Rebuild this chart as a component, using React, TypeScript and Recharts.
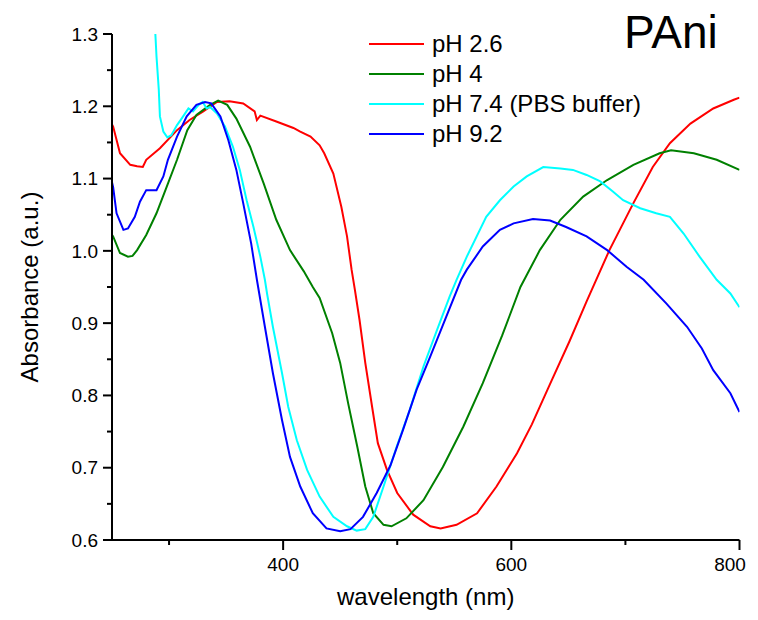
import { LineChart, Line, XAxis, YAxis, Legend, Label } from "recharts"

// absorbance spectra, [wavelength nm, absorbance a.u.]
const ph26: [number, number][] = [
  [250, 1.175], [251, 1.172], [257, 1.135], [266, 1.119], [272, 1.117], [277, 1.116],
  [280, 1.126], [292, 1.142], [307, 1.167], [318, 1.181], [330, 1.193], [342, 1.206],
  [353, 1.207], [365, 1.204], [375, 1.193], [377, 1.181], [380, 1.187], [394, 1.179],
  [409, 1.17], [415, 1.165], [424, 1.158], [432, 1.146], [436, 1.135], [444, 1.107],
  [451, 1.061], [456, 1.02], [460, 0.974], [463, 0.945], [467, 0.904], [472, 0.845],
  [478, 0.784], [483, 0.734], [491, 0.697], [500, 0.665], [514, 0.635], [529, 0.619],
  [538, 0.616], [552, 0.621], [570, 0.637], [587, 0.674], [605, 0.72], [618, 0.76],
  [634, 0.816], [651, 0.875], [666, 0.93], [686, 1.001], [707, 1.066], [724, 1.116],
  [739, 1.149], [757, 1.176], [777, 1.197], [795, 1.209], [800, 1.212],
]

const ph4: [number, number][] = [
  [250, 1.022], [251, 1.02], [257, 0.997], [264, 0.992], [268, 0.993], [272, 1.001],
  [280, 1.022], [289, 1.052], [298, 1.089], [307, 1.126], [316, 1.167], [324, 1.188],
  [336, 1.202], [343, 1.208], [351, 1.202], [359, 1.183], [371, 1.144], [383, 1.093],
  [394, 1.043], [406, 1.001], [418, 0.972], [426, 0.95], [432, 0.935], [443, 0.886],
  [450, 0.845], [457, 0.789], [465, 0.729], [472, 0.674], [479, 0.637], [488, 0.621],
  [495, 0.619], [508, 0.63], [523, 0.655], [540, 0.701], [558, 0.757], [575, 0.817],
  [592, 0.883], [608, 0.95], [625, 1.001], [643, 1.043], [663, 1.075], [684, 1.098],
  [707, 1.119], [730, 1.135], [740, 1.139], [760, 1.135], [780, 1.126], [800, 1.112],
]

const ph74: [number, number][] = [
  [288, 1.3], [289, 1.269], [291, 1.223], [292, 1.186], [295, 1.165], [298.5, 1.157],
  [302, 1.16], [307, 1.174], [311, 1.183], [317, 1.197], [321, 1.193], [326, 1.202],
  [329.5, 1.206], [333, 1.197], [336, 1.199], [342, 1.19], [349, 1.172], [356, 1.144],
  [362, 1.112], [368, 1.07], [374, 1.033], [380, 0.992], [384, 0.96], [386, 0.94],
  [391, 0.895], [399, 0.831], [404.5, 0.784], [412, 0.738], [421, 0.697], [432, 0.66],
  [444, 0.632], [456, 0.619], [464.5, 0.613], [472, 0.615], [479, 0.632], [488, 0.674],
  [499.5, 0.729], [511, 0.78], [523, 0.84], [535, 0.891], [546, 0.937], [552, 0.96],
  [561, 0.992], [578, 1.047], [590, 1.07], [602, 1.089], [613.5, 1.103], [628, 1.116],
  [643, 1.114], [654, 1.112], [666, 1.105], [678, 1.096], [689, 1.082], [698, 1.07],
  [713, 1.059], [727, 1.052], [739, 1.047], [751, 1.024], [765, 0.992], [780, 0.96],
  [792, 0.941], [800, 0.922],
]

const ph92: [number, number][] = [
  [250, 1.095], [251, 1.088], [254, 1.052], [260, 1.029], [264, 1.031], [270, 1.047],
  [274.5, 1.068], [280, 1.084], [289, 1.084], [295, 1.103], [299, 1.126], [307, 1.158],
  [315.5, 1.186], [324, 1.202], [331.5, 1.206], [337, 1.204], [345, 1.186], [352, 1.153],
  [359, 1.112], [365, 1.066], [372, 1.01], [377, 0.96], [384, 0.895], [391, 0.831],
  [399, 0.766], [406, 0.715], [415, 0.674], [426, 0.637], [438, 0.616], [450, 0.612],
  [459, 0.615], [470, 0.632], [482, 0.665], [494, 0.703], [505, 0.752], [517, 0.808],
  [529, 0.854], [543, 0.909], [556, 0.96], [561, 0.974], [575, 1.006], [590, 1.029],
  [602, 1.038], [619, 1.044], [634, 1.042], [648, 1.033], [666, 1.02], [684, 1.001],
  [701, 0.978], [716, 0.96], [736, 0.927], [754, 0.895], [767, 0.865], [777, 0.835],
  [792, 0.803], [800, 0.777],
]

const seriesNames = ["pH 2.6", "pH 4", "pH 7.4 (PBS buffer)", "pH 9.2"]
const seriesColors = ["#ff0000", "#008000", "#00ffff", "#0000ff"]
const seriesData = [ph26, ph4, ph74, ph92]

const xTicks = [300, 400, 500, 600, 700, 800]
const xLabeled = [400, 600, 800]
const yTicks = [0.6, 0.65, 0.7, 0.75, 0.8, 0.85, 0.9, 0.95, 1.0, 1.05, 1.1, 1.15, 1.2, 1.25, 1.3]

const FONT = "Arial, 'Liberation Sans', Helvetica, sans-serif"
const W = 758
const H = 620
const Y_AXIS_W = 112
const X_AXIS_H = 80
const TOP = 34
const PLOT_LEFT = Y_AXIS_W
const PLOT_BOTTOM = H - X_AXIS_H
const VISIBLE_RIGHT = 746

const toPoints = (pts: [number, number][]) => pts.map(([x, y]) => ({ x, y }))

function YTick({ y, payload }: any) {
  const v = payload.value
  const major = Math.round(v * 100) % 10 === 0
  return (
    <g>
      <line x1={PLOT_LEFT - (major ? 9 : 5)} x2={PLOT_LEFT} y1={y} y2={y} stroke="#000" strokeWidth={2} />
      {major && (
        <text x={PLOT_LEFT - 14} y={y} dy="0.35em" textAnchor="end" fontSize={19} fontFamily={FONT} fill="#000">
          {v.toFixed(1)}
        </text>
      )}
    </g>
  )
}

function XTick({ x, payload }: any) {
  const v = payload.value
  const major = xLabeled.includes(v)
  // keep the last label inside the visible page
  const shift = Math.min(0, VISIBLE_RIGHT - (x + 16))
  return (
    <g>
      <line x1={x} x2={x} y1={PLOT_BOTTOM} y2={PLOT_BOTTOM + (major ? 10 : 5)} stroke="#000" strokeWidth={2} />
      {major && (
        <text x={x + shift} y={PLOT_BOTTOM + 18} dy="0.71em" textAnchor="middle" fontSize={19} fontFamily={FONT} fill="#000">
          {v}
        </text>
      )}
    </g>
  )
}

function YTitle({ viewBox }: any) {
  const cy = viewBox.y + viewBox.height / 2
  const cx = 30
  return (
    <text x={cx} y={cy} transform={`rotate(-90 ${cx} ${cy})`} textAnchor="middle" dy="0.35em" fontSize={24} fontFamily={FONT} fill="#000">
      Absorbance (a.u.)
    </text>
  )
}

function XTitle({ viewBox }: any) {
  const cx = viewBox.x + viewBox.width / 2
  return (
    <text x={cx} y={PLOT_BOTTOM + 65} textAnchor="middle" fontSize={24} fontFamily={FONT} fill="#000">
      wavelength (nm)
    </text>
  )
}

function LegendBox({ payload }: any) {
  return (
    <div style={{ fontFamily: FONT, fontSize: 24, color: "#000" }}>
      {(payload || []).map((item: any) => (
        <div key={item.value} style={{ display: "flex", alignItems: "center", height: 30, lineHeight: "30px", whiteSpace: "nowrap" }}>
          <svg width={55} height={30}>
            <line x1={0} x2={55} y1={15} y2={15} stroke={item.color} strokeWidth={2} />
          </svg>
          <span style={{ marginLeft: 8 }}>{item.value}</span>
        </div>
      ))}
    </div>
  )
}

export default function App() {
  return (
    <div style={{ width: W, height: H, margin: -8, overflow: "hidden" }}>
      <style>{"html, body { overflow: hidden; }"}</style>
      <LineChart width={W} height={H} margin={{ top: TOP, right: 18.5, left: 0, bottom: 0 }}>
        <XAxis
          type="number"
          dataKey="x"
          domain={[250, 800]}
          ticks={xTicks}
          interval={0}
          height={X_AXIS_H}
          axisLine={{ stroke: "#000", strokeWidth: 2 }}
          tickLine={false}
          tick={<XTick />}
          allowDataOverflow
        >
          <Label content={<XTitle />} />
        </XAxis>
        <YAxis
          type="number"
          domain={[0.6, 1.3]}
          ticks={yTicks}
          interval={0}
          width={Y_AXIS_W}
          axisLine={{ stroke: "#000", strokeWidth: 2 }}
          tickLine={false}
          tick={<YTick />}
          allowDataOverflow
        >
          <Label content={<YTitle />} />
        </YAxis>
        <Legend
          layout="vertical"
          align="center"
          verticalAlign="middle"
          content={<LegendBox />}
          wrapperStyle={{ left: 369, top: 29, width: 300 }}
        />
        {seriesData.map((pts, i) => (
          <Line
            key={seriesNames[i]}
            data={toPoints(pts)}
            dataKey="y"
            name={seriesNames[i]}
            stroke={seriesColors[i]}
            strokeWidth={2}
            type="linear"
            dot={false}
            activeDot={false}
            isAnimationActive={false}
          />
        ))}
        <text x={624} y={48} fontSize={46} fontFamily={FONT} fill="#000">
          PAni
        </text>
      </LineChart>
    </div>
  )
}
